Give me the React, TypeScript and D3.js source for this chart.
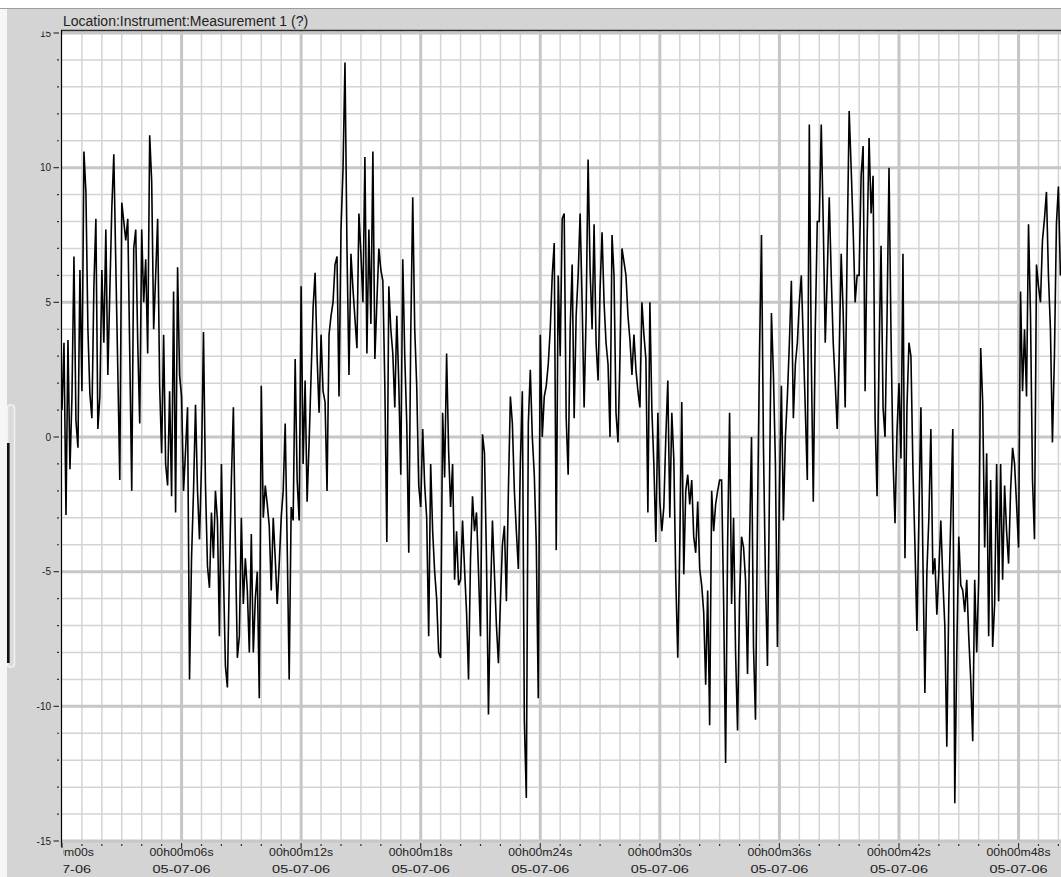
import { useEffect, useRef } from 'react';
import * as d3 from 'd3';

const chartTitle  = 'Location:Instrument:Measurement 1 (?)';
const dateLabel   = '05-07-06';
const sampleStep  = 0.1; // seconds between samples
const xMajorTicks = [0, 6, 12, 18, 24, 30, 36, 42, 48];
const yMajorTicks = [-15, -10, -5, 0, 5, 10, 15];

// 00s - 10s (one row per second)
const block0 = [
  1.0, 3.5, -2.9, 3.6, -1.2, 1.5, 6.7, 0.6, -0.4, 6.2,
  1.7, 10.6, 9.1, 4.0, 1.6, 0.7, 5.6, 8.1, 0.3, 1.5,
  6.2, 3.5, 7.7, 2.3, 5.4, 8.5, 10.5, 6.4, 2.5, -1.6,
  8.7, 8.0, 7.3, 8.1, 3.1, -2.0, 7.0, 7.7, 3.5, 0.5,
  7.7, 5.0, 6.6, 3.1, 11.2, 9.5, 4.0, 6.0, 8.1, 1.9,
  -0.6, 3.8, -1.0, -1.8, 1.7, -2.2, 5.4, -2.8, 6.3, 2.3,
  1.5, -2.0, -0.5, 1.1, -9.0, -4.5, -2.0, 1.2, -2.0, -3.8,
  -1.0, 3.9, -1.8, -4.8, -5.6, -2.8, -4.5, -2.0, -3.1, -7.4,
  -1.0, -5.0, -8.5, -9.3, -5.0, -1.6, 1.1, -4.0, -8.2, -7.4,
  -3.0, -6.2, -4.5, -5.7, -8.0, -3.6, -8.0, -6.0, -5.0, -9.7,
];

// 10s - 20s
const block1 = [
  1.9, -3.0, -1.8, -2.5, -3.3, -5.7, -3.0, -4.5, -6.2, -4.7,
  -3.0, -2.0, 0.5, -4.0, -9.0, -2.6, -3.1, 2.9, -1.6, -3.1,
  5.6, -1.0, 2.1, -2.4, -0.2, 2.3, 4.8, 6.1, 3.0, 0.9,
  3.8, 1.7, 1.3, -2.0, 3.8, 4.5, 5.0, 6.4, 6.7, 1.5,
  7.7, 9.9, 13.9, 7.0, 2.3, 6.8, 5.5, 4.4, 3.3, 8.3,
  6.8, 5.0, 10.4, 3.1, 7.7, 4.2, 10.6, 2.9, 5.0, 7.0,
  6.2, 5.8, 1.9, -3.9, 5.6, 4.0, 3.1, 1.1, 4.5, 2.0,
  -1.4, 6.6, 3.0, 0.5, -4.3, 3.8, 8.9, 4.0, 1.9, -1.8,
  -2.6, 0.3, -1.8, -3.0, -7.4, -1.0, -3.5, -5.0, -6.0, -8.0,
  -8.2, 0.9, -1.5, 3.1, -0.5, -2.6, -1.0, -5.3, -3.5, -5.5,
];

// 20s - 30s
const block2 = [
  -5.3, -3.1, -4.9, -6.5, -9.0, -4.5, -2.2, -3.5, -2.8, -5.0,
  -7.4, 0.1, -0.6, -4.5, -10.3, -6.0, -3.1, -5.1, -7.0, -8.4,
  -6.1, -4.0, -3.3, -6.1, -2.0, 1.5, 0.5, -2.0, -3.5, -4.9,
  -1.0, 1.7, -10.5, -13.4, 0.5, 2.5, 0.0, -1.4, -4.0, -9.7,
  3.8, 0.0, 1.5, 1.9, 2.7, 4.0, 6.0, 7.2, -4.2, 6.0,
  3.0, 8.1, 8.3, 0.7, -1.4, 4.0, 6.4, 0.7, 4.5, 6.0,
  8.3, 5.0, 1.1, 4.5, 10.3, 6.2, 4.0, 7.9, 3.5, 2.1,
  5.5, 7.6, 5.0, 3.5, 2.7, 0.0, 7.5, 6.0, 0.9, -0.2,
  3.0, 7.0, 6.5, 6.0, 4.5, 3.6, 2.3, 3.8, 2.5, 1.7,
  1.1, 5.0, 3.8, 2.9, -2.8, 5.0, 1.0, -1.0, -3.9, 0.9,
];

// 30s - 40s
const block3 = [
  -2.4, -3.5, -2.6, 0.0, 2.1, -3.0, 0.9, -0.8, -5.3, -8.2,
  -4.0, 1.3, -5.1, -2.0, -1.4, -2.5, -1.6, -3.7, -4.3, -2.4,
  -4.9, -5.5, -6.5, -9.2, -5.7, -10.7, -2.0, -3.5, -2.5, -2.0,
  -1.6, -1.6, -6.1, -12.1, -4.0, 0.9, -6.2, -3.0, -8.0, -10.9,
  -6.0, -3.7, -4.1, -5.3, -8.8, -4.0, 0.0, -7.8, -10.5, -3.0,
  3.0, 7.5, -0.4, -5.3, -8.5, -2.0, 4.6, 2.3, -1.0, -7.8,
  -2.0, 1.9, -3.1, 0.0, 1.5, 3.5, 5.8, 0.7, 2.7, 3.5,
  5.0, 6.0, 3.5, 1.0, -1.6, 11.6, 2.9, -2.4, 4.0, 8.0,
  8.0, 11.6, 7.9, 3.5, 6.0, 8.9, 6.0, 3.5, 2.0, 0.3,
  3.0, 6.8, 4.6, 1.1, 7.0, 12.1, 10.0, 7.7, 5.0, 6.0,
];

// 40s - 50.1s
const block4 = [
  6.0, 9.7, 10.8, 1.7, 7.3, 11.1, 8.3, 9.7, 0.7, -2.2,
  3.0, 7.1, 1.1, 0.0, 4.4, 10.0, 3.8, -0.8, -3.2, 0.2,
  2.0, -0.8, 6.8, -4.5, 1.1, 3.5, 3.0, -1.2, -4.0, -7.2,
  -3.0, 1.1, -4.5, -9.5, -5.0, -3.0, 0.3, -5.1, -4.5, -6.6,
  -5.0, -3.1, -5.3, -7.0, -11.5, -6.1, -3.0, 0.3, -13.6, -8.0,
  -3.7, -5.5, -5.7, -6.5, -5.3, -7.4, -9.0, -11.3, -5.3, -8.0,
  -5.3, 3.3, 1.3, -4.1, -0.6, -7.4, -1.6, -7.8, -6.2, -1.0,
  -6.1, -1.0, -5.3, -1.8, -3.5, -4.7, -2.0, -0.4, -1.0, -2.5,
  -4.1, 5.4, 1.7, 4.0, 1.5, 7.9, 4.5, -1.6, -3.8, 6.4,
  5.6, 5.0, 7.3, 8.1, 9.1, 6.0, 4.0, -0.2, 3.0, 7.9,
  9.3, 6.0,
];

const samples = [...block0, ...block1, ...block2, ...block3, ...block4];

const WIDTH  = 1061;
const HEIGHT = 877;
const FONT   = 'Arial, "Liberation Sans", sans-serif';

const timeLabel = (s: number) => `00h00m${String(s).padStart(2, '0')}s`;

export default function App() {
  const ref = useRef<SVGSVGElement>(null);

  useEffect(() => {
    if (!ref.current) return;
    const svg = d3.select(ref.current);
    svg.selectAll('*').remove();

    const plot = { left: 62, right: 1061, top: 30, bottom: 841 };

    const x = d3.scaleLinear().domain([0, 50.13]).range([plot.left, plot.right]);
    const y = d3.scaleLinear().domain([-15, 15]).range([841, 33]);

    const defs = svg.append('defs');
    defs.append('clipPath').attr('id', 'plotClip')
      .append('rect')
      .attr('x', plot.left).attr('y', plot.top)
      .attr('width', plot.right - plot.left).attr('height', plot.bottom - plot.top);
    defs.append('clipPath').attr('id', 'xLabelClip')
      .append('rect').attr('x', 63.5).attr('y', 846).attr('width', WIDTH - 63).attr('height', 40);
    defs.append('clipPath').attr('id', 'yLabelClip')
      .append('rect').attr('x', 0).attr('y', 31.5).attr('width', 62).attr('height', 830);

    // window chrome
    svg.append('rect').attr('width', WIDTH).attr('height', HEIGHT).attr('fill', '#d4d4d4');
    svg.append('rect').attr('width', WIDTH).attr('height', 8).attr('fill', '#ffffff');
    svg.append('rect').attr('x', 0).attr('y', 8).attr('width', 7).attr('height', HEIGHT).attr('fill', '#f6f6f6');
    svg.append('line')
      .attr('x1', 0).attr('x2', WIDTH).attr('y1', 8.5).attr('y2', 8.5)
      .attr('stroke', '#9c9c9c').attr('stroke-width', 1);

    // side slider stub
    svg.append('rect')
      .attr('x', 7.5).attr('y', 405).attr('width', 7).attr('height', 262).attr('rx', 3)
      .attr('fill', '#dadada').attr('stroke', '#f2f2f2').attr('stroke-width', 1.5);
    svg.append('rect')
      .attr('x', 7).attr('y', 443).attr('width', 2.6).attr('height', 220).attr('fill', '#111');

    // plot background
    svg.append('rect')
      .attr('x', plot.left).attr('y', plot.top)
      .attr('width', plot.right - plot.left).attr('height', plot.bottom - plot.top)
      .attr('fill', '#ffffff');

    // grid
    const grid = svg.append('g');
    const minorY = d3.range(-14, 15).filter(v => v % 5 !== 0);
    const minorX = d3.range(1, 51).filter(t => t % 6 !== 0);

    grid.selectAll('.hminor').data(minorY).enter().append('line')
      .attr('x1', plot.left).attr('x2', plot.right)
      .attr('y1', d => y(d)).attr('y2', d => y(d))
      .attr('stroke', '#d4d4d4').attr('stroke-width', 1.5);
    grid.selectAll('.vminor').data(minorX).enter().append('line')
      .attr('y1', plot.top).attr('y2', plot.bottom)
      .attr('x1', d => x(d)).attr('x2', d => x(d))
      .attr('stroke', '#d4d4d4').attr('stroke-width', 1.5);
    grid.selectAll('.hmajor').data(yMajorTicks).enter().append('line')
      .attr('x1', plot.left).attr('x2', plot.right)
      .attr('y1', d => y(d)).attr('y2', d => y(d))
      .attr('stroke', '#c6c6c6').attr('stroke-width', 3);
    grid.selectAll('.vmajor').data(xMajorTicks.filter(t => t > 0)).enter().append('line')
      .attr('y1', plot.top).attr('y2', plot.bottom)
      .attr('x1', d => x(d)).attr('x2', d => x(d))
      .attr('stroke', '#c6c6c6').attr('stroke-width', 3);

    // trace
    const line = d3.line<number>()
      .x((_d, i) => x(i * sampleStep))
      .y(d => y(d));

    svg.append('path')
      .datum(samples)
      .attr('clip-path', 'url(#plotClip)')
      .attr('fill', 'none')
      .attr('stroke', '#000')
      .attr('stroke-width', 1.6)
      .attr('d', line);

    // frame
    svg.append('line')
      .attr('x1', 61).attr('x2', plot.right).attr('y1', 30.5).attr('y2', 30.5)
      .attr('stroke', '#2a2a2a').attr('stroke-width', 1.5);
    svg.append('line')
      .attr('x1', 61.5).attr('x2', 61.5).attr('y1', 30).attr('y2', 847)
      .attr('stroke', '#000').attr('stroke-width', 1.2);

    // y ticks and labels
    const yAxis = svg.append('g');
    yAxis.selectAll('.ytick').data(d3.range(-15, 16)).enter().append('line')
      .attr('x1', d => (d % 5 === 0 ? 53.5 : 57)).attr('x2', 59)
      .attr('y1', d => y(d)).attr('y2', d => y(d))
      .attr('stroke', '#333').attr('stroke-width', 1.2);
    yAxis.append('g').attr('clip-path', 'url(#yLabelClip)')
      .selectAll('text').data(yMajorTicks).enter().append('text')
      .attr('x', 51).attr('y', d => y(d) + 3.5)
      .attr('text-anchor', 'end')
      .attr('font-family', FONT).attr('font-size', 10).attr('fill', '#222')
      .text(d => String(d));

    // x ticks and labels
    const xAxis = svg.append('g');
    xAxis.selectAll('.xtick').data(d3.range(0, 51)).enter().append('line')
      .attr('x1', d => x(d)).attr('x2', d => x(d))
      .attr('y1', d => (d % 6 === 0 ? 843 : 844)).attr('y2', d => (d % 6 === 0 ? 848 : 846))
      .attr('stroke', '#333').attr('stroke-width', 1.2);

    const labels = xAxis.append('g').attr('clip-path', 'url(#xLabelClip)');
    labels.selectAll('.l1').data(xMajorTicks).enter().append('text')
      .attr('x', d => x(d)).attr('y', 855.5)
      .attr('text-anchor', 'middle')
      .attr('font-family', FONT).attr('font-size', 10).attr('fill', '#222')
      .attr('textLength', 64).attr('lengthAdjust', 'spacingAndGlyphs')
      .text(d => timeLabel(d));
    labels.selectAll('.l2').data(xMajorTicks).enter().append('text')
      .attr('x', d => x(d)).attr('y', 872.5)
      .attr('text-anchor', 'middle')
      .attr('font-family', FONT).attr('font-size', 10).attr('fill', '#222')
      .attr('textLength', 58).attr('lengthAdjust', 'spacingAndGlyphs')
      .text(dateLabel);

    // title
    svg.append('text')
      .attr('x', 63).attr('y', 25.5)
      .attr('font-family', FONT).attr('font-size', 14).attr('fill', '#222')
      .text(chartTitle);
  }, []);

  return (
    <svg
      ref={ref}
      width={WIDTH}
      height={HEIGHT}
      style={{ position: 'fixed', left: 0, top: 0, display: 'block' }}
    />
  );
}
